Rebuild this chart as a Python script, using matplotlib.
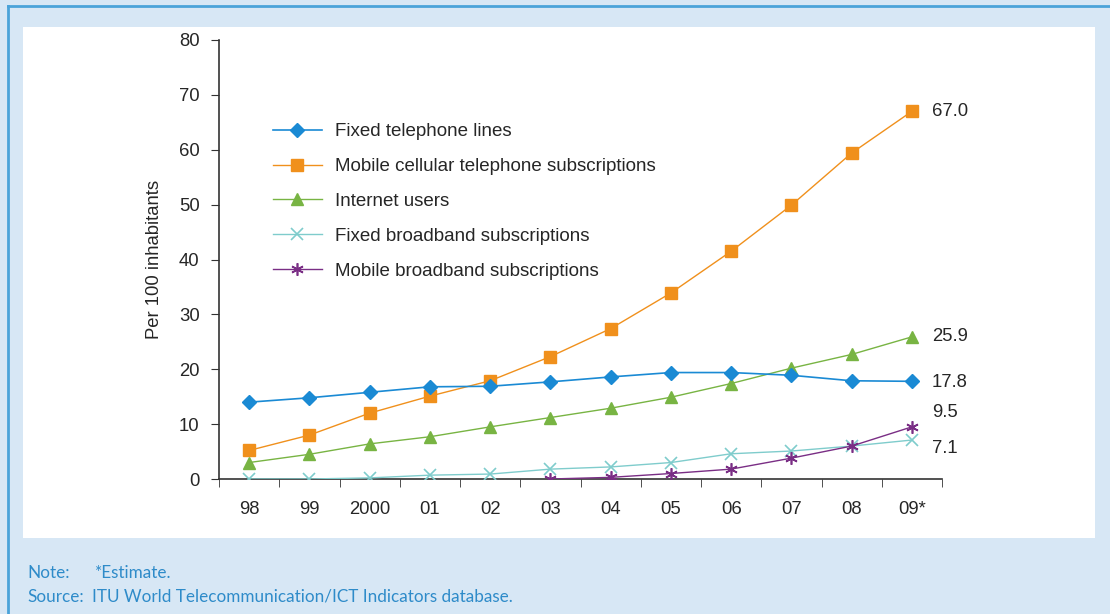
import matplotlib
matplotlib.use("Agg")
import matplotlib.pyplot as plt
from matplotlib.patches import Rectangle
from matplotlib.lines import Line2D

years = ["98", "99", "2000", "01", "02", "03", "04", "05", "06", "07", "08", "09*"]
fixed_tel = [14.0, 14.8, 15.8, 16.8, 16.9, 17.7, 18.6, 19.4, 19.4, 18.9, 17.9, 17.8]
mobile_cell = [5.2, 8.0, 12.0, 15.1, 17.9, 22.3, 27.4, 33.9, 41.5, 49.9, 59.4, 67.0]
internet = [3.0, 4.5, 6.4, 7.7, 9.5, 11.2, 12.9, 14.9, 17.4, 20.2, 22.7, 25.9]
fixed_bb = [0.0, 0.0, 0.2, 0.7, 0.9, 1.8, 2.2, 3.0, 4.6, 5.1, 6.0, 7.1]
mobile_bb_years = ["03", "04", "05", "06", "07", "08", "09*"]
mobile_bb = [0.0, 0.3, 1.0, 1.8, 3.8, 6.0, 9.5]
end_labels = ["67.0", "25.9", "17.8", "9.5", "7.1"]

series_names = ["Fixed telephone lines", "Mobile cellular telephone subscriptions",
                "Internet users", "Fixed broadband subscriptions",
                "Mobile broadband subscriptions"]

FS = 13.3
FONT = "Liberation Sans"
TXT = "#262626"

W, H = 1110, 614
fig = plt.figure(figsize=(W / 100, H / 100), dpi=100)
fig.patch.set_facecolor("#d7e7f5")

# white panel and border lines
fig.add_artist(Rectangle((23 / W, 1 - 538 / H), (1095 - 23) / W, (538 - 27) / H,
                         transform=fig.transFigure, facecolor="white", edgecolor="none", zorder=0))
fig.add_artist(Line2D([8 / W, 1], [1 - 6 / H, 1 - 6 / H], transform=fig.transFigure,
                      color="#4aa3d9", lw=2))
fig.add_artist(Line2D([8 / W, 8 / W], [0, 1 - 6 / H], transform=fig.transFigure,
                      color="#4aa3d9", lw=2))

ax = fig.add_axes([219 / W, 1 - 479 / H, (942 - 219) / W, (479 - 40) / H])
ax.set_facecolor("none")

x = list(range(len(years)))
xm = [years.index(y) for y in mobile_bb_years]

c_blue = "#1a8ad4"
c_orange = "#f0901c"
c_green = "#78b443"
c_teal = "#7fcccc"
c_purple = "#7a2e85"

ax.plot(x, fixed_tel, color=c_blue, lw=1.2, marker="D", ms=7, mec=c_blue, label=series_names[0], zorder=5)
ax.plot(x, mobile_cell, color=c_orange, lw=1.0, marker="s", ms=8.5, mec=c_orange, label=series_names[1], zorder=4)
ax.plot(x, internet, color=c_green, lw=1.0, marker="^", ms=8.5, mec=c_green, label=series_names[2], zorder=4)
ax.plot(x, fixed_bb, color=c_teal, lw=1.0, marker="x", ms=8, mew=1.2, label=series_names[3], zorder=3)
ax.plot(xm, mobile_bb, color=c_purple, lw=1.0, marker=(6, 2, 0), ms=9, mew=1.2, label=series_names[4], zorder=3)

ax.set_xlim(-0.5, len(years) - 0.5)
ax.set_ylim(0, 80)
ax.set_yticks(range(0, 81, 10))
ax.set_xticks(x)
ax.set_xticklabels(years)
ax.set_xticks([i - 0.5 for i in range(len(years) + 1)], minor=True)
ax.tick_params(axis="x", which="major", length=0, pad=16, labelsize=FS, labelcolor=TXT)
ax.tick_params(axis="x", which="minor", length=6, direction="out", color="#333333")
ax.tick_params(axis="y", length=6, direction="out", pad=8, labelsize=FS, labelcolor=TXT, color="#333333")
for s in ["top", "right"]:
    ax.spines[s].set_visible(False)
for s in ["left", "bottom"]:
    ax.spines[s].set_color("#333333")
    ax.spines[s].set_linewidth(1.2)

ax.set_ylabel("Per 100 inhabitants", fontsize=FS, color=TXT, family=FONT)
ax.yaxis.set_label_coords(-0.078, 0.5)

for t in ax.get_xticklabels() + ax.get_yticklabels():
    t.set_fontfamily(FONT)

# end labels
last = len(years) - 1
end_vals = [mobile_cell[-1], internet[-1], fixed_tel[-1], mobile_bb[-1], fixed_bb[-1]]
offsets = [0, 0, -1, 14, -8]
for lab, v, off in zip(end_labels, end_vals, offsets):
    ax.annotate(lab, (last, v), xytext=(20, off), textcoords="offset pixels",
                ha="left", va="center", fontsize=FS, color=TXT, family=FONT)

leg = ax.legend(loc="upper left", bbox_to_anchor=(54 / (942 - 219), 1 - (123 - 40) / (479 - 40)),
                frameon=False, handlelength=2.6, handletextpad=0.7, labelspacing=0.95,
                prop={"family": FONT, "size": 13.5}, borderaxespad=0, borderpad=0)
for t in leg.get_texts():
    t.set_color(TXT)

NC = "#2e8bc9"
NF = 12.3
fig.text(27 / W, 1 - 573 / H, "Note:", fontsize=NF, color=NC, family="Lato", va="center")
fig.text(95 / W, 1 - 573 / H, "*Estimate.", fontsize=NF, color=NC, family="Lato", va="center")
fig.text(27 / W, 1 - 597 / H, "Source:", fontsize=NF, color=NC, family="Lato", va="center")
fig.text(92 / W, 1 - 597 / H, "ITU World Telecommunication/ICT Indicators database.", fontsize=NF,
         color=NC, family="Lato", va="center")

fig.savefig("out.png", dpi=100, facecolor=fig.get_facecolor())
